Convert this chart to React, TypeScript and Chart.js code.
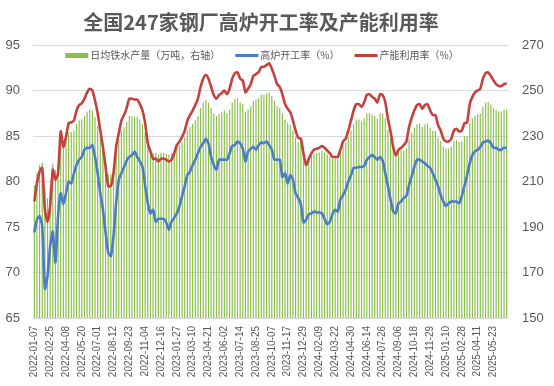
import React, { useEffect, useRef } from "react";
import { Chart, registerables } from "chart.js";

Chart.register(...registerables);

const titleText = "全国247家钢厂高炉开工率及产能利用率";
const seriesNames = ["日均铁水产量（万吨，右轴）", "高炉开工率（%）", "产能利用率（%）"];

const tickLabels = [
  "2022-01-07", "2022-02-25", "2022-04-08", "2022-05-20", "2022-07-01", "2022-08-12",
  "2022-09-23", "2022-11-04", "2022-12-16", "2023-01-27", "2023-03-10", "2023-04-21",
  "2023-06-02", "2023-07-14", "2023-08-25", "2023-10-07", "2023-11-17", "2023-12-29",
  "2024-02-09", "2024-03-22", "2024-04-30", "2024-06-14", "2024-07-26", "2024-09-06",
  "2024-10-18", "2024-11-29", "2025-01-10", "2025-02-28", "2025-04-11", "2025-05-23",
];

// 产能利用率 (%)
const capacityUtil = [
  77.8, 79.8, 81.1, 81.5, 76.9, 75.6, 77.3, 81.3, 80.2, 80.9,
  85.5, 83.8, 84.9, 86.4, 86.5, 86.7, 87.8, 88.4, 88.6, 89.1,
  89.8, 90.2, 90.0, 88.9, 87.5, 85.6, 83.8, 81.6, 79.5, 79.5,
  80.9, 83.8, 85.3, 86.7, 87.3, 88.1, 89.1, 89.1, 89.0, 89.0,
  88.5, 87.8, 86.4, 84.2, 83.3, 82.5, 82.5, 82.2, 82.5, 82.5,
  82.4, 82.2, 82.4, 83.1, 84.0, 84.4, 84.9, 85.6, 86.7, 87.3,
  87.8, 88.4, 89.1, 90.4, 91.3, 91.7, 91.3, 90.4, 89.5, 89.1,
  89.5, 89.7, 90.0, 89.6, 90.2, 91.3, 91.9, 92.0, 91.3, 91.1,
  89.8, 90.2, 90.7, 91.6, 91.8, 92.0, 92.6, 92.6, 92.8, 93.0,
  92.4, 91.6, 90.7, 90.4, 89.6, 88.5, 88.0, 87.6, 86.7, 85.6,
  84.8, 84.7, 83.1, 81.8, 82.5, 83.1, 83.5, 83.6, 83.7, 83.9,
  83.7, 83.4, 83.1, 82.7, 82.7, 82.7, 83.5, 84.4, 84.7, 85.6,
  86.7, 87.8, 88.5, 88.5, 88.2, 88.7, 89.5, 89.6, 89.3, 89.1,
  88.7, 89.6, 89.5, 88.7, 86.9, 85.5, 83.8, 82.9, 83.5, 83.7,
  84.0, 84.4, 86.0, 87.0, 87.8, 88.4, 88.5, 88.0, 88.4, 88.5,
  87.8, 87.3, 87.3, 86.2, 85.6, 84.7, 84.4, 84.4, 84.7, 85.6,
  85.8, 85.5, 85.6, 86.4, 86.5, 88.5, 89.3, 89.8, 90.0, 90.2,
  91.3, 91.9, 92.0, 91.6, 91.1, 90.7, 90.5, 90.5, 90.7, 90.8,
];

// 高炉开工率 (%)
const bfRate = [
  74.4, 75.8, 76.2, 75.1, 68.2, 69.6, 72.9, 74.5, 71.1, 76.2,
  78.7, 77.5, 78.7, 80.0, 79.8, 80.9, 81.8, 82.4, 82.7, 83.5,
  83.7, 83.7, 84.0, 82.7, 80.9, 78.7, 76.9, 74.4, 72.2, 71.8,
  74.0, 77.6, 80.2, 80.9, 81.6, 82.3, 82.7, 82.9, 83.3, 82.7,
  82.2, 81.6, 79.5, 77.6, 76.5, 76.9, 75.6, 75.9, 75.9, 75.9,
  75.5, 74.7, 75.6, 76.0, 76.5, 77.3, 78.4, 79.5, 80.7, 81.1,
  81.8, 82.4, 83.1, 83.8, 84.2, 84.7, 84.2, 82.7, 81.8, 81.3,
  82.4, 82.4, 82.4, 82.4, 83.1, 83.9, 84.0, 84.4, 84.2, 83.6,
  82.2, 83.3, 83.6, 83.8, 83.5, 84.0, 84.3, 84.2, 84.4, 84.0,
  83.5, 82.4, 82.4, 82.4, 80.5, 80.9, 79.8, 80.7, 80.2, 78.7,
  78.2, 77.5, 75.5, 75.8, 76.4, 76.5, 76.7, 76.6, 76.6, 76.5,
  75.9, 75.3, 75.6, 76.4, 76.9, 76.7, 78.0, 78.5, 79.1, 80.0,
  80.7, 81.5, 81.5, 81.6, 81.6, 81.7, 82.4, 82.7, 82.9, 82.7,
  82.4, 82.7, 82.3, 80.9, 79.5, 78.0, 76.7, 76.5, 77.6, 77.8,
  78.2, 78.4, 79.6, 80.6, 81.6, 82.4, 82.4, 82.2, 82.0, 81.7,
  81.5, 80.9, 80.2, 79.5, 78.5, 77.8, 77.3, 77.6, 77.8, 77.8,
  77.8, 77.6, 78.4, 79.5, 80.7, 82.0, 82.9, 83.3, 83.5, 83.8,
  84.3, 84.4, 84.5, 84.2, 83.7, 83.7, 83.5, 83.5, 83.7, 83.7,
];

// 日均铁水产量 (万吨)
const hotMetal = [
  208.5, 213.9, 217.3, 218.4, 206.1, 202.6, 207.2, 217.9, 214.9, 216.8,
  229.1, 224.6, 227.5, 231.6, 231.8, 232.4, 235.3, 236.9, 237.4, 238.8,
  240.7, 241.7, 241.2, 238.3, 234.5, 229.4, 224.6, 218.7, 213.1, 213.1,
  216.8, 224.6, 228.6, 232.4, 234.0, 236.1, 238.8, 238.8, 238.5, 238.5,
  237.2, 235.3, 231.6, 225.7, 223.2, 222.6, 222.6, 221.8, 222.6, 222.6,
  222.3, 221.8, 222.3, 222.7, 225.1, 226.2, 227.5, 229.4, 232.4, 234.0,
  235.3, 236.9, 238.8, 242.3, 244.7, 245.8, 244.7, 242.3, 239.9, 238.8,
  239.9, 240.4, 241.2, 240.1, 241.7, 244.7, 246.3, 246.6, 244.7, 244.1,
  240.7, 241.7, 243.1, 245.5, 246.0, 246.6, 248.2, 248.2, 248.7, 249.2,
  247.6, 245.5, 243.1, 242.3, 240.1, 237.2, 235.8, 234.8, 232.4, 229.4,
  227.3, 227.0, 222.7, 217.7, 219.6, 221.2, 222.3, 222.5, 222.8, 223.4,
  222.8, 222.0, 221.2, 220.1, 220.1, 220.1, 223.8, 226.2, 227.0, 229.4,
  232.4, 235.3, 237.2, 237.2, 236.4, 237.7, 239.9, 240.1, 239.3, 238.8,
  237.7, 240.1, 239.9, 237.7, 232.9, 229.1, 224.6, 222.2, 223.8, 224.3,
  223.4, 224.5, 228.8, 231.5, 233.6, 235.2, 235.5, 234.1, 235.2, 235.5,
  233.6, 232.3, 232.3, 229.3, 227.7, 225.3, 224.5, 224.5, 225.3, 227.7,
  228.2, 227.4, 227.7, 229.9, 230.1, 235.5, 237.6, 239.0, 239.5, 240.0,
  243.0, 244.6, 244.9, 243.8, 242.4, 241.4, 240.8, 240.8, 241.4, 241.6,
];

// weekly categories: each labelled week followed by the five unlabelled weeks
const categories: string[] = [];
tickLabels.forEach((t) => {
  categories.push(t);
  const base = new Date(t + "T00:00:00Z").getTime();
  for (let k = 1; k < 6; k++) {
    categories.push(new Date(base + k * 7 * 86400000).toISOString().slice(0, 10));
  }
});

const GREEN = "#8CBF4A";
const BLUE = "#4A7DC4";
const RED = "#C4413D";
const TEXT = "#595959";
const CJK = "'Noto Sans CJK SC', sans-serif";
const NUM = "Liberation Sans";

const overlayPlugin = {
  id: "titleLegend",
  afterDraw(chart: any) {
    const ctx = chart.ctx as CanvasRenderingContext2D;
    ctx.save();
    // title
    ctx.fillStyle = TEXT;
    ctx.font = `bold 20px ${CJK}`;
    ctx.textAlign = "center";
    ctx.textBaseline = "middle";
    ctx.fillText(titleText, 261, 22);
    // legend
    ctx.font = `10px ${CJK}`;
    ctx.textAlign = "left";
    const colors = [GREEN, BLUE, RED];
    const heights = [5, 3, 3];
    const boxW = 23;
    const boxGap = 2;
    const itemGap = 15;
    const widths = seriesNames.map((s) => ctx.measureText(s).width);
    const total = widths.reduce((a, w) => a + boxW + boxGap + w, 0) + itemGap * (seriesNames.length - 1);
    let x = 262 - total / 2;
    const y = 55.5;
    seriesNames.forEach((s, i) => {
      ctx.fillStyle = colors[i];
      ctx.fillRect(x, y - heights[i] / 2, boxW, heights[i]);
      x += boxW + boxGap;
      ctx.fillStyle = TEXT;
      ctx.fillText(s, x, y);
      x += widths[i] + itemGap;
    });
    ctx.restore();
  },
};

export default function App() {
  const ref = useRef<HTMLCanvasElement | null>(null);
  useEffect(() => {
    document.body.style.margin = "0";
    const canvas = ref.current;
    if (!canvas) return;
    const chart = new Chart(canvas, {
      type: "bar",
      data: {
        labels: categories,
        datasets: [
          {
            type: "bar",
            label: seriesNames[0],
            data: hotMetal,
            yAxisID: "y1",
            backgroundColor: GREEN,
            borderWidth: 0,
            categoryPercentage: 1,
            barPercentage: 0.45,
            order: 3,
          },
          {
            type: "line",
            label: seriesNames[1],
            data: bfRate,
            yAxisID: "y",
            borderColor: BLUE,
            backgroundColor: BLUE,
            borderWidth: 2.6,
            pointRadius: 0,
            tension: 0.2,
            order: 2,
          },
          {
            type: "line",
            label: seriesNames[2],
            data: capacityUtil,
            yAxisID: "y",
            borderColor: RED,
            backgroundColor: RED,
            borderWidth: 2.6,
            pointRadius: 0,
            tension: 0.2,
            order: 1,
          },
        ],
      } as any,
      options: {
        responsive: false,
        animation: false,
        layout: { padding: { left: 5, right: 10, top: 45, bottom: 9 } },
        plugins: {
          tooltip: { enabled: false },
          title: { display: false },
          legend: { display: false },
        },
        scales: {
          x: {
            offset: true,
            grid: { display: false, drawTicks: false },
            border: { display: false },
            afterFit: (s: any) => {
              s.paddingLeft = 0;
              s.paddingRight = 0;
              s.height = 59;
            },
            ticks: {
              autoSkip: false,
              maxRotation: 90,
              minRotation: 90,
              padding: 8,
              color: TEXT,
              font: { family: NUM, size: 10 },
              callback: (_v: any, idx: number) => (idx % 6 === 0 ? categories[idx] : null),
            },
          },
          y: {
            position: "left",
            min: 65,
            max: 95,
            grid: { color: "#D9D9D9", drawTicks: false, lineWidth: 1 },
            border: { display: false },
            afterFit: (s: any) => {
              s.width = 28;
            },
            ticks: {
              stepSize: 5,
              padding: 13,
              color: TEXT,
              font: { family: NUM, size: 13 },
            },
          },
          y1: {
            position: "right",
            min: 150,
            max: 270,
            grid: { display: false, drawTicks: false },
            border: { display: false },
            afterFit: (s: any) => {
              s.width = 36;
            },
            ticks: {
              stepSize: 20,
              padding: 14,
              color: TEXT,
              font: { family: NUM, size: 13 },
            },
          },
        },
      } as any,
      plugins: [overlayPlugin],
    });
    return () => chart.destroy();
  }, []);
  return <canvas ref={ref} width={554} height={386} style={{ display: "block" }} />;
}
